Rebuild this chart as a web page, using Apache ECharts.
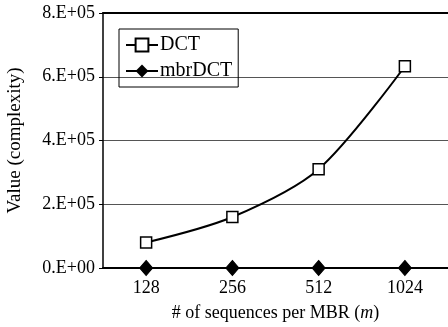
<!DOCTYPE html>
<html><head><meta charset="utf-8">
<script src="https://cdn.jsdelivr.net/npm/echarts@6/dist/echarts.min.js"></script>
<style>html,body{margin:0;padding:0;background:#fff}#c{width:448px;height:327px}</style>
</head><body><div id="c"></div>
<script>
const categories = ['128', '256', '512', '1024'];
const dctValues = [80000, 160000, 310000, 633000];
const mbrDctValues = [0, 0, 0, 0];
const yTicks = [0, 200000, 400000, 600000, 800000];
const yTickLabels = ['0.E+00', '2.E+05', '4.E+05', '6.E+05', '8.E+05'];

const font = 'Liberation Serif';
const chart = echarts.init(document.getElementById('c'));
chart.setOption({
  animation: false,
  backgroundColor: '#fff',
  textStyle: { fontFamily: font },
  grid: { left: 103, right: 0, top: 13, bottom: 59, containLabel: false, outerBoundsMode: 'none' },
  legend: {
    left: 119, top: 29, orient: 'vertical',
    padding: [6, 6, 6, 6],
    itemGap: 6,
    itemWidth: 32, itemHeight: 16,
    borderColor: '#000', borderWidth: 1,
    textStyle: { fontFamily: font, fontSize: 20, color: '#000', padding: [0, 0, 0, -3] },
    data: ['DCT', 'mbrDCT']
  },
  xAxis: [{
    type: 'category', data: categories, boundaryGap: true,
    axisLine: { lineStyle: { color: '#000', width: 2 } },
    axisTick: { inside: true, length: 5, lineStyle: { color: '#000' } },
    axisLabel: { color: '#000', fontSize: 18, fontFamily: font, margin: 11 },
    name: '{a|# of sequences per MBR (}{i|m}{a|)}',
    nameLocation: 'middle', nameGap: 36,
    nameTextStyle: { rich: {
      a: { fontFamily: font, fontSize: 18, color: '#000' },
      i: { fontFamily: font, fontSize: 18, color: '#000', fontStyle: 'italic' } } }
  }, {
    type: 'category', data: categories, position: 'top',
    axisLine: { lineStyle: { color: '#000', width: 2 } },
    axisTick: { show: false }, axisLabel: { show: false }
  }],
  yAxis: {
    type: 'value', min: 0, max: 800000, interval: 200000,
    axisLine: { show: true, lineStyle: { color: '#000', width: 1.5 } },
    axisTick: { show: true, length: 4, lineStyle: { color: '#000' } },
    splitLine: { lineStyle: { color: '#555', width: 1 } },
    axisLabel: { color: '#000', fontSize: 18, fontFamily: font, margin: 8,
      formatter: v => yTickLabels[yTicks.indexOf(v)] },
    name: 'Value (complexity)', nameLocation: 'middle', nameGap: 78,
    nameTextStyle: { fontFamily: font, fontSize: 19, color: '#000' }
  },
  series: [{
    name: 'DCT', type: 'line', data: dctValues, smooth: 0.3,
    symbol: 'rect', symbolSize: 11,
    lineStyle: { color: '#000', width: 2 },
    itemStyle: { color: '#fff', borderColor: '#000', borderWidth: 1.5 },
    z: 3
  }, {
    name: 'mbrDCT', type: 'line', data: mbrDctValues,
    symbol: 'diamond', symbolSize: [13, 15],
    lineStyle: { color: '#000', width: 2 },
    itemStyle: { color: '#000', borderColor: '#000' },
    z: 4
  }]
});
</script></body></html>
